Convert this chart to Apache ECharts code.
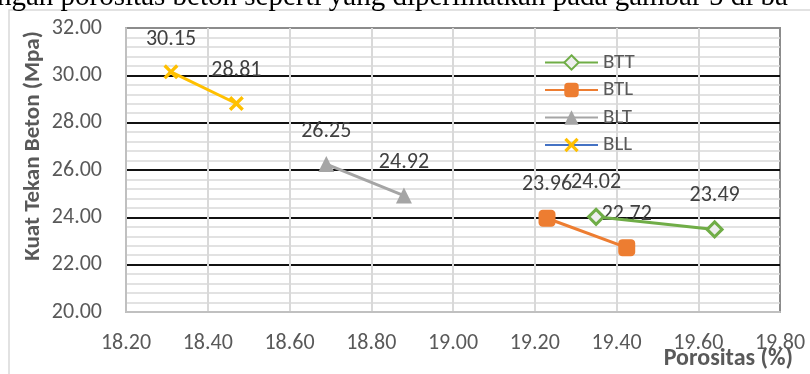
<!DOCTYPE html>
<html><head><meta charset="utf-8">
<script src="https://cdn.jsdelivr.net/npm/echarts@6/dist/echarts.min.js"></script>
<style>html,body{margin:0;padding:0;background:#fff}#c{width:810px;height:374px}</style>
</head><body><div id="c"></div>
<script>
const seriesNames = ['BTT', 'BTL', 'BLT', 'BLL'];
const bttX = [19.35, 19.64];
const bttY = [24.02, 23.49];
const btlX = [19.23, 19.425];
const btlY = [23.96, 22.72];
const bltX = [18.69, 18.88];
const bltY = [26.25, 24.92];
const bllX = [18.31, 18.47];
const bllY = [30.15, 28.81];
const xTitle = 'Porositas (%)';
const yTitle = 'Kuat Tekan Beton (Mpa)';
const topText = 'ngan porositas beton seperti yang diperlihatkan pada gambar 5 di ba';

const FONT = "Carlito, Calibri, Lato, sans-serif";
const pairs = (xs, ys) => xs.map((x, i) => [x, ys[i]]);
const xShape = 'path://M0,1.6 L1.6,0 L5,3.4 L8.4,0 L10,1.6 L6.6,5 L10,8.4 L8.4,10 L5,6.6 L1.6,10 L0,8.4 L3.4,5 Z';
const labelCfg = {show: true, position: 'top', distance: 14, color: '#404040', fontSize: 22, fontFamily: FONT,
  formatter: p => p.value[1].toFixed(2)};

const chart = echarts.init(document.getElementById('c'));
chart.setOption({
  animation: false,
  graphic: [
    {type: 'rect', shape: {x: 9, y: 10, width: 900, height: 500}, style: {fill: 'none', stroke: '#d9d9d9', lineWidth: 1.5}, z: -10},
    {type: 'text', style: {text: topText, x: -3, y: -3, font: "29px 'Liberation Serif', 'Times New Roman', serif", fill: '#000', textVerticalAlign: 'middle'}},
    {type: 'text', rotation: Math.PI / 2, x: 33, y: 146, style: {text: yTitle, font: "bold 23px " + FONT, fill: '#595959', textAlign: 'center', textVerticalAlign: 'middle'}},
    {type: 'text', x: 793, y: 359, style: {text: xTitle, font: "bold 24px " + FONT, fill: '#595959', textAlign: 'right', textVerticalAlign: 'middle'}}
  ],
  grid: {left: 126, right: 30, top: 28, bottom: 62, show: true, borderColor: '#8c8c8c', borderWidth: 2, backgroundColor: 'transparent'},
  legend: {
    left: 539, top: 47, orient: 'vertical', itemWidth: 53, itemHeight: 18, itemGap: 6.5,
    textStyle: {color: '#595959', fontSize: 21, fontFamily: FONT},
    data: [
      {name: 'BTT'}, {name: 'BTL'}, {name: 'BLT'},
      {name: 'BLL', lineStyle: {color: '#4472C4'}}
    ]
  },
  xAxis: {
    type: 'value', min: 18.2, max: 19.8, interval: 0.2,
    axisLine: {show: true, lineStyle: {color: '#c0c0c0', width: 2}},
    axisTick: {show: false},
    axisLabel: {margin: 20, color: '#595959', fontSize: 22, fontFamily: FONT, formatter: v => v.toFixed(2)},
    splitLine: {show: true, showMinLine: false, showMaxLine: false, lineStyle: {color: '#d9d9d9', width: 2}}
  },
  yAxis: {
    type: 'value', min: 20, max: 32, interval: 2,
    axisLine: {show: true, lineStyle: {color: '#c0c0c0', width: 2}},
    axisTick: {show: false},
    axisLabel: {margin: 24, color: '#595959', fontSize: 22, fontFamily: FONT, formatter: v => v.toFixed(2)},
    splitLine: {show: true, showMinLine: false, showMaxLine: false, lineStyle: {color: '#111', width: 2}},
    minorTick: {show: false, splitNumber: 5},
    minorSplitLine: {show: true, lineStyle: {color: '#d9d9d9', width: 1.5}}
  },
  series: [
    {name: 'BTT', type: 'line', data: pairs(bttX, bttY), symbol: 'diamond', symbolSize: 15,
      lineStyle: {color: '#70AD47', width: 3}, itemStyle: {color: '#eeeeee', borderColor: '#70AD47', borderWidth: 3},
      label: labelCfg, z: 5},
    {name: 'BTL', type: 'line', data: pairs(btlX, btlY), symbol: 'roundRect', symbolSize: 17,
      lineStyle: {color: '#ED7D31', width: 3}, itemStyle: {color: '#ED7D31'}, label: labelCfg, z: 4},
    {name: 'BLT', type: 'line', data: pairs(bltX, bltY), symbol: 'triangle', symbolSize: 16,
      lineStyle: {color: '#A5A5A5', width: 3}, itemStyle: {color: '#A5A5A5'}, label: labelCfg, z: 3},
    {name: 'BLL', type: 'line', data: pairs(bllX, bllY), symbol: xShape, symbolSize: 15,
      lineStyle: {color: '#FFC000', width: 3}, itemStyle: {color: '#FFC000'}, label: labelCfg, z: 2}
  ]
});
</script></body></html>
